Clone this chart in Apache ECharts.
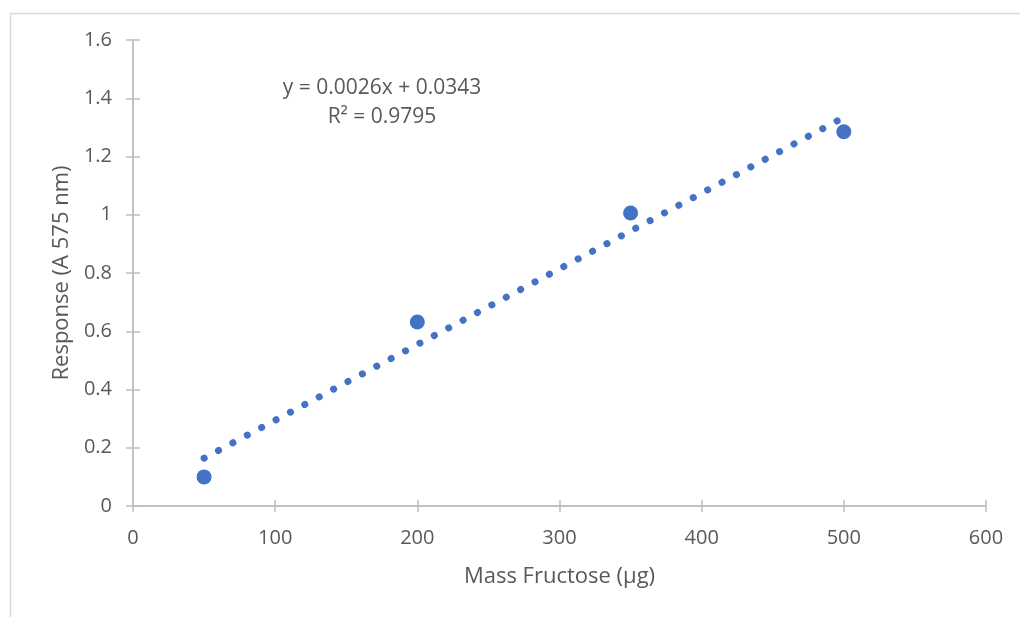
<!DOCTYPE html>
<html>
<head>
<meta charset="utf-8">
<script src="https://cdn.jsdelivr.net/npm/echarts@6/dist/echarts.min.js"></script>
<style>
  html, body { margin: 0; padding: 0; background: #fff; }
  #myChart { width: 1020px; height: 617px; }
</style>
</head>
<body>
<div id="myChart"></div>
<script>
// 数据
const massFructose = [50, 200, 350, 500];      // x 值 (µg)
const response = [0.1, 0.632, 1.006, 1.285];    // A 575 nm
const trendX = [50, 500];                       // 趋势线端点
const trendY = [0.1643, 1.3343];                // y = 0.0026x + 0.0343
const xTicks = [0, 100, 200, 300, 400, 500, 600];
const yTicks = [0, 0.2, 0.4, 0.6, 0.8, 1, 1.2, 1.4, 1.6];

const blue = '#4472C4';
const axisGray = '#BFBFBF';
const textGray = '#595959';
const font = 'Open Sans, Noto Sans, sans-serif';

const pts = massFructose.map((x, i) => [x, response[i]]);
const trend = trendX.map((x, i) => [x, trendY[i]]);

// 轴的公共配置
const xBase = {
  type: 'value', min: xTicks[0], max: xTicks[xTicks.length - 1], interval: 100,
  position: 'bottom', splitLine: { show: false },
  axisLine: { lineStyle: { color: axisGray, width: 1.5 } }
};
const yBase = {
  type: 'value', min: yTicks[0], max: yTicks[yTicks.length - 1], interval: 0.2,
  position: 'left', splitLine: { show: false },
  axisLine: { lineStyle: { color: axisGray, width: 1.5 } }
};

const chart = echarts.init(document.getElementById('myChart'));
chart.setOption({
  animation: false,
  grid: { left: 133, right: 34, top: 40, bottom: 111 },
  xAxis: [
    Object.assign({}, xBase, {
      name: 'Mass Fructose (µg)', nameLocation: 'middle', nameGap: 60,
      nameTextStyle: { color: textGray, fontSize: 22, fontFamily: font },
      axisTick: { length: 6, lineStyle: { color: axisGray, width: 1.5 } },
      axisLabel: { color: textGray, fontSize: 20, fontFamily: font, margin: 22 }
    }),
    // 内侧刻度，做出穿轴的效果
    Object.assign({}, xBase, {
      axisTick: { inside: true, length: 6, lineStyle: { color: axisGray, width: 1.5 } },
      axisLabel: { show: false }
    })
  ],
  yAxis: [
    Object.assign({}, yBase, {
      name: 'Response (A 575 nm)', nameLocation: 'middle', nameGap: 54,
      nameTextStyle: { color: textGray, fontSize: 22, fontFamily: font },
      axisTick: { length: 7, lineStyle: { color: axisGray, width: 1.5 } },
      axisLabel: { color: textGray, fontSize: 20, fontFamily: font, margin: 21 }
    }),
    Object.assign({}, yBase, {
      axisTick: { inside: true, length: 7, lineStyle: { color: axisGray, width: 1.5 } },
      axisLabel: { show: false }
    })
  ],
  series: [
    {
      type: 'line', data: trend, symbol: 'none', silent: true,
      lineStyle: { color: blue, width: 7, cap: 'round', type: [0.1, 16.2] }
    },
    {
      type: 'scatter', data: pts, symbolSize: 15,
      itemStyle: { color: blue, opacity: 1 }
    }
  ],
  graphic: [
    {
      type: 'rect', left: 8, top: 11, silent: true,
      shape: { width: 1030, height: 620 },
      style: { fill: 'none', stroke: '#D9D9D9', lineWidth: 1.5 }
    },
    {
      type: 'text', x: 382, y: 88, silent: true,
      style: {
        text: 'y = 0.0026x + 0.0343', fill: textGray, fontSize: 21, fontFamily: font,
        align: 'center', verticalAlign: 'middle'
      }
    },
    {
      type: 'text', x: 382, y: 117, silent: true,
      style: {
        text: 'R² = 0.9795', fill: textGray, fontSize: 21, fontFamily: font,
        align: 'center', verticalAlign: 'middle'
      }
    }
  ]
});
</script>
</body>
</html>
